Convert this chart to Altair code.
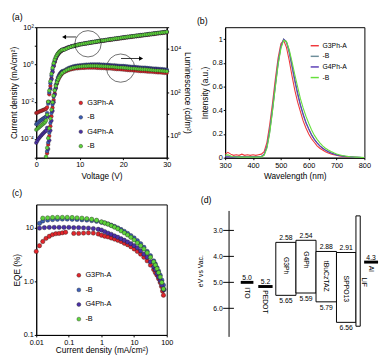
import altair as alt
import pandas as pd

FONT = "Liberation Sans"
NB = "\u00a0"

series = ["G3Ph-A", "G3Ph-B", "G4Ph-A", "G4Ph-B"]
colors_pts = ["#e2252b", "#3d5fb8", "#4b30a8", "#5ed43b"]
colors_lin = ["#f0383c", "#6e8e9a", "#5a3db5", "#66e03c"]

# ---------------- (a) J-V-L ----------------
voltage = [0, 0.25, 0.5, 0.75, 1, 1.25, 1.5, 1.75, 2, 2.25, 2.5, 2.75, 3, 3.25, 3.5, 3.75,
           4, 4.25, 4.5, 4.75, 5, 5.25, 5.5, 5.75, 6,
           6.5, 7, 7.5, 8, 8.5, 9, 9.5, 10, 10.5, 11, 11.5, 12, 12.5, 13, 13.5, 14, 14.5,
           15, 15.5, 16, 16.5, 17, 17.5, 18, 18.5, 19, 19.5, 20, 20.5, 21, 21.5, 22, 22.5,
           23, 23.5, 24, 24.5, 25, 25.5, 26, 26.5, 27, 27.5, 28, 28.5, 29, 29.5, 30]

# log10 of current density (mA/cm2)
logJ = {
    "G3Ph-A": [-2.6, -2.58, -2.55, -2.52, -2.5, -2.48, -2.45, -2.43, -2.4, -2.38, -2.3, -2.0, -1.6,
               -1.15, -0.75, -0.4, -0.1, 0.12, 0.3, 0.44, 0.54, 0.62, 0.68, 0.73, 0.77,
               0.84, 0.89, 0.93, 0.96, 0.99, 1.02, 1.04, 1.07, 1.09, 1.11, 1.13, 1.15, 1.17, 1.19, 1.20,
               1.22, 1.24, 1.26, 1.27, 1.29, 1.31, 1.32, 1.34, 1.36, 1.37, 1.39, 1.40, 1.42, 1.44, 1.45,
               1.47, 1.48, 1.50, 1.51, 1.53, 1.54, 1.56, 1.57, 1.59, 1.60, 1.62, 1.63, 1.65, 1.66, 1.68,
               1.69, 1.71, 1.72],
    "G3Ph-B": [-3.2, -3.15, -3.1, -3.05, -3.0, -2.96, -2.92, -2.88, -2.84, -2.8, -2.6, -2.1, -1.5,
               -1.0, -0.6, -0.27, 0.0, 0.2, 0.36, 0.48, 0.57, 0.64, 0.7, 0.74, 0.78,
               0.81, 0.86, 0.91, 0.95, 0.98, 1.01, 1.04, 1.07, 1.09, 1.11, 1.13, 1.15, 1.17, 1.19, 1.21,
               1.23, 1.25, 1.27, 1.28, 1.30, 1.32, 1.34, 1.35, 1.37, 1.39, 1.40, 1.42, 1.44, 1.45, 1.47,
               1.48, 1.50, 1.51, 1.53, 1.54, 1.56, 1.57, 1.59, 1.60, 1.62, 1.63, 1.65, 1.66, 1.68, 1.69,
               1.71, 1.72, 1.74],
    "G4Ph-A": [-4.2, -4.1, -4.0, -3.92, -3.85, -3.78, -3.72, -3.66, -3.6, -3.55, -3.4, -2.8, -2.0,
               -1.3, -0.8, -0.4, -0.08, 0.16, 0.34, 0.47, 0.57, 0.65, 0.71, 0.76, 0.8,
               0.83, 0.88, 0.93, 0.97, 1.00, 1.03, 1.06, 1.09, 1.11, 1.13, 1.15, 1.17, 1.19, 1.21, 1.23,
               1.25, 1.27, 1.29, 1.30, 1.32, 1.34, 1.36, 1.37, 1.39, 1.41, 1.42, 1.44, 1.46, 1.47, 1.49,
               1.50, 1.52, 1.53, 1.55, 1.56, 1.58, 1.59, 1.61, 1.62, 1.64, 1.65, 1.67, 1.68, 1.70, 1.71,
               1.73, 1.74, 1.76],
    "G4Ph-B": [-3.5, -3.45, -3.4, -3.35, -3.3, -3.25, -3.2, -3.15, -3.1, -3.0, -2.7, -2.0, -1.4,
               -0.9, -0.5, -0.18, 0.07, 0.26, 0.4, 0.51, 0.6, 0.67, 0.72, 0.76, 0.79,
               0.80, 0.86, 0.91, 0.95, 0.99, 1.02, 1.05, 1.08, 1.10, 1.12, 1.14, 1.16, 1.18, 1.20, 1.22,
               1.24, 1.26, 1.28, 1.29, 1.31, 1.33, 1.35, 1.36, 1.38, 1.40, 1.41, 1.43, 1.45, 1.46, 1.48,
               1.49, 1.51, 1.52, 1.54, 1.55, 1.57, 1.58, 1.60, 1.61, 1.63, 1.64, 1.66, 1.67, 1.69, 1.70,
               1.72, 1.73, 1.75],
}

# log10 of luminance (cd/m2); None = below detection
logL = {
    "G3Ph-A": [None] * 10 + [-0.8, -0.4, 0.0, 0.45, 0.9, 1.3, 1.65, 1.95, 2.2, 2.4, 2.55, 2.66, 2.75, 2.82, 2.88,
               2.94, 2.99, 3.03, 3.06, 3.08, 3.10, 3.11, 3.12, 3.13, 3.13, 3.14, 3.14, 3.14, 3.14, 3.14,
               3.13, 3.13, 3.12, 3.12, 3.11, 3.10, 3.10, 3.09, 3.08, 3.07, 3.07, 3.06, 3.05, 3.04, 3.03,
               3.02, 3.02, 3.01, 3.00, 2.99, 2.98, 2.98, 2.97, 2.96, 2.95, 2.95, 2.94, 2.93, 2.92, 2.92,
               2.91, 2.90, 2.90],
    "G3Ph-B": [None] * 10 + [-0.7, -0.3, 0.15, 0.6, 1.05, 1.45, 1.8, 2.1, 2.35, 2.55, 2.7, 2.8, 2.88, 2.94, 2.98,
               3.02, 3.08, 3.13, 3.17, 3.20, 3.22, 3.24, 3.25, 3.26, 3.27, 3.28, 3.28, 3.29, 3.29, 3.29,
               3.29, 3.29, 3.28, 3.28, 3.27, 3.27, 3.26, 3.25, 3.25, 3.24, 3.23, 3.22, 3.22, 3.21, 3.20,
               3.19, 3.18, 3.18, 3.17, 3.16, 3.15, 3.14, 3.14, 3.13, 3.12, 3.11, 3.10, 3.10, 3.09, 3.08,
               3.07, 3.06, 3.05],
    "G4Ph-A": [None] * 11 + [-0.6, -0.2, 0.25, 0.7, 1.15, 1.55, 1.9, 2.2, 2.45, 2.62, 2.75, 2.84, 2.9, 2.94,
               2.98, 3.04, 3.09, 3.13, 3.16, 3.18, 3.20, 3.21, 3.22, 3.23, 3.24, 3.24, 3.25, 3.25, 3.25,
               3.25, 3.25, 3.24, 3.24, 3.23, 3.23, 3.22, 3.21, 3.21, 3.20, 3.19, 3.18, 3.18, 3.17, 3.16,
               3.15, 3.14, 3.14, 3.13, 3.12, 3.11, 3.10, 3.10, 3.09, 3.08, 3.07, 3.06, 3.06, 3.05, 3.04,
               3.03, 3.02, 3.01],
    "G4Ph-B": [None] * 9 + [-0.95, -0.55, -0.1, 0.35, 0.8, 1.2, 1.55, 1.85, 2.1, 2.3, 2.47, 2.6, 2.7, 2.78, 2.85, 2.9,
               2.97, 3.03, 3.07, 3.11, 3.14, 3.16, 3.18, 3.19, 3.20, 3.21, 3.21, 3.22, 3.22, 3.22, 3.22,
               3.22, 3.21, 3.21, 3.20, 3.20, 3.19, 3.18, 3.18, 3.17, 3.16, 3.15, 3.15, 3.14, 3.13, 3.12,
               3.11, 3.10, 3.10, 3.09, 3.08, 3.07, 3.06, 3.06, 3.05, 3.04, 3.03, 3.02, 3.01, 3.01, 3.00,
               2.99, 2.98, 2.97],
}

# circles / arrows annotation (data coordinates: V, J)
circle_V = [11.9, 19.4]
circle_J = [12.9, 0.64]
arrow_V1 = [9.2, 19.5]
arrow_V2 = [6.4, 24.1]
arrow_J = [30.0, 2.1]

# ---------------- (b) EL spectra ----------------
wavelength = [300, 310, 320, 330, 340, 350, 360, 370, 380, 390, 400, 410, 420, 430, 440, 450, 460, 470,
              480, 490, 500, 510, 520, 530, 540, 550, 560, 570, 580, 590, 600, 610, 620, 630, 640, 650,
              660, 670, 680, 690, 700, 710, 720, 730, 740, 750, 760, 770, 780, 790, 800]
intensity = {
    "G3Ph-A": [0.03, 0.045, 0.03, 0.02, 0.025, 0.02, 0.03, 0.02, 0.025, 0.02, 0.025, 0.02, 0.025, 0.03,
               0.05, 0.13, 0.28, 0.46, 0.66, 0.84, 0.96, 0.99, 0.93, 0.82, 0.69, 0.57, 0.47, 0.39, 0.31,
               0.25, 0.20, 0.16, 0.13, 0.10, 0.08, 0.065, 0.05, 0.04, 0.032, 0.025, 0.02, 0.015, 0.012,
               0.009, 0.007, 0.005, 0.004, 0.003, 0.002, 0.002, 0.001],
    "G3Ph-B": [0.012, 0.015, 0.012, 0.01, 0.01, 0.01, 0.01, 0.01, 0.01, 0.01, 0.01, 0.01, 0.01, 0.012,
               0.03, 0.10, 0.24, 0.42, 0.62, 0.81, 0.94, 1.0, 0.97, 0.88, 0.76, 0.64, 0.53, 0.44, 0.36,
               0.29, 0.24, 0.19, 0.155, 0.125, 0.10, 0.08, 0.065, 0.052, 0.042, 0.033, 0.026, 0.02,
               0.016, 0.012, 0.009, 0.007, 0.005, 0.004, 0.003, 0.002, 0.002],
    "G4Ph-A": [0.006, 0.008, 0.006, 0.005, 0.005, 0.005, 0.005, 0.005, 0.005, 0.005, 0.005, 0.005, 0.006,
               0.008, 0.025, 0.09, 0.22, 0.40, 0.60, 0.79, 0.93, 1.0, 0.98, 0.90, 0.78, 0.66, 0.55, 0.45,
               0.37, 0.30, 0.245, 0.195, 0.155, 0.125, 0.10, 0.08, 0.064, 0.05, 0.04, 0.031, 0.024,
               0.018, 0.014, 0.011, 0.008, 0.006, 0.005, 0.004, 0.003, 0.002, 0.002],
    "G4Ph-B": [0.02, 0.025, 0.015, 0.008, 0.006, 0.005, 0.005, 0.005, 0.005, 0.005, 0.005, 0.005, 0.005,
               0.006, 0.02, 0.08, 0.21, 0.39, 0.59, 0.78, 0.92, 0.99, 0.98, 0.91, 0.81, 0.70, 0.60, 0.50,
               0.42, 0.35, 0.29, 0.235, 0.19, 0.155, 0.125, 0.10, 0.08, 0.065, 0.052, 0.041, 0.032,
               0.025, 0.019, 0.015, 0.011, 0.008, 0.006, 0.005, 0.004, 0.003, 0.002],
}

# ---------------- (c) EQE vs J ----------------
eqe_logJ = {
    "G3Ph-A": [-2.0, -1.9, -1.8, -1.7, -1.6, -1.5, -1.4, -1.3, -1.2, -1.1, -0.85, -0.7, -0.55, -0.4, -0.25,
               -0.1, 0.0, 0.1, 0.2, 0.3, 0.4, 0.5, 0.6, 0.7, 0.8, 0.9, 1.0, 1.1, 1.2, 1.3, 1.4, 1.5, 1.6,
               1.65, 1.7, 1.75, 1.8, 1.84, 1.87, 1.9],
    "G3Ph-B": [-1.9, -1.8, -1.65, -1.5, -1.35, -1.2, -1.05, -0.9, -0.75, -0.6, -0.45, -0.3, -0.15,
               0.0, 0.1, 0.2, 0.3, 0.4, 0.5, 0.6, 0.7, 0.8, 0.9, 1.0, 1.1, 1.2, 1.3, 1.4, 1.5, 1.6,
               1.65, 1.7, 1.75, 1.8, 1.85, 1.9, 1.92],
    "G4Ph-A": [-1.9, -1.75, -1.6, -1.45, -1.3, -1.15, -1.0, -0.85, -0.7, -0.55, -0.4, -0.25, -0.1,
               0.0, 0.1, 0.2, 0.3, 0.4, 0.5, 0.6, 0.7, 0.8, 0.9, 1.0, 1.1, 1.2, 1.3, 1.4, 1.5, 1.6,
               1.65, 1.7, 1.75, 1.8, 1.85, 1.9],
    "G4Ph-B": [-1.8, -1.65, -1.5, -1.35, -1.2, -1.05, -0.9, -0.75, -0.6, -0.45, -0.3, -0.15,
               0.0, 0.1, 0.2, 0.3, 0.4, 0.5, 0.6, 0.7, 0.8, 0.9, 1.0, 1.1, 1.2, 1.3, 1.4, 1.5, 1.6,
               1.65, 1.7, 1.75, 1.8, 1.85, 1.9],
}
eqe_val = {
    "G3Ph-A": [3.6, 4.6, 5.5, 6.3, 6.9, 7.4, 7.7, 7.8, 8.0, 8.2, 7.8, 7.8, 7.9, 8.0, 7.9,
               7.6, 7.2, 6.9, 6.7, 6.4, 6.1, 5.8, 5.5, 5.1, 4.8, 4.4, 4.0, 3.6, 3.2, 2.8, 2.4, 2.0, 1.65,
               1.45, 1.3, 1.12, 0.95, 0.8, 0.66, 0.55],
    "G3Ph-B": [12.0, 13.3, 13.8, 14.1, 14.3, 14.4, 14.4, 14.3, 14.2, 14.0, 13.8, 13.5, 13.1,
               12.6, 12.2, 11.7, 11.1, 10.5, 9.9, 9.2, 8.5, 7.8, 7.1, 6.4, 5.7, 5.0, 4.3, 3.6, 3.0, 2.4,
               2.1, 1.8, 1.55, 1.3, 1.05, 0.85, 0.7],
    "G4Ph-A": [9.8, 10.0, 10.1, 10.1, 10.1, 10.1, 10.1, 10.0, 10.0, 9.9, 9.8, 9.6, 9.3,
               9.0, 8.4, 7.9, 7.5, 7.0, 6.6, 6.2, 5.8, 5.4, 5.0, 4.6, 4.2, 3.7, 3.2, 2.8, 2.3, 1.85,
               1.65, 1.4, 1.2, 1.02, 0.85, 0.7],
    "G4Ph-B": [15.0, 15.2, 15.4, 15.5, 15.5, 15.5, 15.4, 15.2, 15.0, 14.7, 14.3, 13.7,
               12.8, 12.2, 11.6, 10.9, 10.2, 9.5, 8.7, 8.0, 7.3, 6.6, 5.9, 5.2, 4.6, 4.0, 3.4, 2.8, 2.3,
               2.0, 1.72, 1.45, 1.2, 0.95, 0.72],
}

# ---------------- (d) energy diagram ----------------
d_names = ["ITO", "PEDOT", "G3Ph", "G4Ph", "tBuCzTAZ", "SPPO13", "LiF", "Al"]
d_kind = ["bar", "bar", "box", "box", "box", "box", "box", "bar"]
d_top_label = ["5.0", "5.2", "2.58", "2.54", "2.88", "2.91", "", "4.3"]
d_bottom_label = ["", "", "5.65", "5.59", "5.79", "6.56", "", ""]
d_top = [5.0, 5.16, 3.46, 3.38, 3.81, 3.85, 2.44, 4.22]        # as drawn (eV)
d_bottom = [5.0, 5.16, 5.5, 5.41, 5.75, 6.54, 6.69, 4.22]      # as drawn (eV)
d_x0 = [12, 30, 48, 68.7, 89.3, 110.3, 130.3, 138.7]
d_x1 = [25, 44.7, 68.7, 89.3, 110.3, 130.3, 134.7, 153]
d_name_x = [18.5, 37.3, 58.3, 79, 99.8, 120.3, 138.7, 145.8]
d_name_y = [5.19, 5.3, 4.02, 3.8, 4.17, 4.74, 4.81, 4.36]
d_ticks = [3.0, 4.0, 5.0, 6.0]
d_axis_span = [2.25, 7.1]

# ================= build frames =================
rows_j, rows_l = [], []
for k, s in enumerate(series):
    for i, v in enumerate(voltage):
        rows_j.append({"series": s, "k": k, "V": v, "J": 10 ** logJ[s][i]})
        if logL[s][i] is not None:
            rows_l.append({"series": s, "k": k, "V": v, "L": 10 ** logL[s][i]})
df_j = pd.DataFrame(rows_j)
df_l = pd.DataFrame(rows_l)

rows_b = []
for s in series:
    for w, it in zip(wavelength, intensity[s]):
        rows_b.append({"series": s, "wl": w, "I": it})
df_b = pd.DataFrame(rows_b)

rows_c = []
for s in series:
    for lj, e in zip(eqe_logJ[s], eqe_val[s]):
        rows_c.append({"series": s, "J": 10 ** lj, "EQE": e})
df_c = pd.DataFrame(rows_c)

label_b = f"indexof(datum.label, '-B') > 0 ? '{NB * 9}-B' : datum.label"


def lexp(mapping):
    e = "round(log(datum.value)/LN10)"
    expr = "''"
    for p, t in mapping.items():
        expr = f"{e} == {p} ? '{t}' : ({expr})"
    return expr


# ---- (a)
W_A, H_A = 134, 134
x_a = alt.X("V:Q", scale=alt.Scale(domain=[0, 30], nice=False),
            axis=alt.Axis(values=[0, 5, 10, 15, 20, 25, 30], title="Voltage (V)", titlePadding=4))
ax_j = alt.Axis(values=[1e-5, 1e-4, 1e-3, 1e-2, 1e-1, 1, 10, 100],
                labelExpr=lexp({2: "10²", 0: "10⁰", -2: "10⁻²", -4: "10⁻⁴"}),
                title="Current density (mA/cm²)", labelOverlap=False, titlePadding=1)
y_j = alt.Y("J:Q", scale=alt.Scale(type="log", domain=[1e-5, 1e2], nice=False), axis=ax_j)
leg_a = alt.Legend(orient="none", legendX=42, legendY=74, title=None, symbolType="circle",
                   symbolSize=14, symbolStrokeColor="#222", symbolStrokeWidth=0.4, labelFontSize=7.5,
                   rowPadding=5.8, padding=0, labelOffset=3, labelExpr=label_b)
col_a = alt.Color("series:N", scale=alt.Scale(domain=series, range=colors_pts), legend=leg_a)

j_pts = alt.Chart(df_j).mark_circle(size=14, opacity=1, stroke="#1c1c1c", strokeWidth=0.35).encode(
    x=x_a, y=y_j, color=col_a)
ann_c = pd.DataFrame({"V": circle_V, "J": circle_J})
circ1 = alt.Chart(ann_c.iloc[[0]]).mark_point(shape="circle", filled=False, size=730, color="black",
                                                strokeWidth=0.8).encode(x=x_a, y=y_j)
circ2 = alt.Chart(ann_c.iloc[[1]]).mark_point(shape="circle", filled=False, size=840, color="black",
                                                strokeWidth=0.8).encode(x=x_a, y=y_j)
ann_a = pd.DataFrame({"V": arrow_V1, "V2": arrow_V2, "J": arrow_J})
arrows = alt.Chart(ann_a).mark_rule(color="black", strokeWidth=0.8).encode(x=x_a, x2="V2:Q", y=y_j)
head_l = alt.Chart(ann_a.iloc[[0]]).mark_point(shape="triangle-left", filled=True, size=22,
                                               color="black", opacity=1).encode(
    x=alt.X("V2:Q", scale=alt.Scale(domain=[0, 30], nice=False)), y=y_j)
head_r = alt.Chart(ann_a.iloc[[1]]).mark_point(shape="triangle-right", filled=True, size=22,
                                               color="black", opacity=1).encode(
    x=alt.X("V2:Q", scale=alt.Scale(domain=[0, 30], nice=False)), y=y_j)
a_left = alt.layer(j_pts, circ1, circ2, arrows, head_l, head_r)

ax_l = alt.Axis(orient="right", values=[0.1, 1, 10, 100, 1e3, 1e4, 1e5],
                labelExpr=lexp({4: "10⁴", 2: "10²", 0: "10⁰"}),
                title="Luminescence (cd/m²)", labelOverlap=False)
l_pts = alt.Chart(df_l).mark_circle(size=14, opacity=1, stroke="#1c1c1c", strokeWidth=0.35).encode(
    x=x_a,
    y=alt.Y("L:Q", scale=alt.Scale(type="log", domain=[0.1, 1e5], nice=False), axis=ax_l),
    color=col_a)
panel_a = alt.layer(a_left, l_pts).resolve_scale(y="independent").properties(
    width=W_A, height=H_A,
    title=alt.TitleParams("(a)", anchor="start", frame="group", dx=-25, offset=1))

# ---- (b)
leg_b = alt.Legend(orient="none", legendX=87, legendY=14, title=None, symbolType="stroke",
                   symbolSize=70, symbolStrokeWidth=1.5, labelFontSize=7, rowPadding=2.9,
                   padding=0, labelOffset=3, labelExpr=label_b)
panel_b = alt.Chart(df_b).mark_line(strokeWidth=1.1).encode(
    x=alt.X("wl:Q", scale=alt.Scale(domain=[300, 800], nice=False),
            axis=alt.Axis(values=[300, 400, 500, 600, 700, 800], title="Wavelength (nm)",
                          labelPadding=2, titlePadding=3)),
    y=alt.Y("I:Q", scale=alt.Scale(domain=[0, 1.1], nice=False),
            axis=alt.Axis(values=[0, 0.2, 0.4, 0.6, 0.8, 1.0], format=".1~f", title="Intensity (a.u.)",
                          titlePadding=3)),
    color=alt.Color("series:N", scale=alt.Scale(domain=series, range=colors_lin), legend=leg_b),
).properties(width=143, height=134,
             title=alt.TitleParams("(b)", anchor="start", frame="group", dx=-29, offset=1))

# ---- (c)
leg_c = alt.Legend(orient="none", legendX=40, legendY=69, title=None, symbolType="circle",
                   symbolSize=16, symbolStrokeColor="#222", symbolStrokeWidth=0.4, labelFontSize=7.5,
                   rowPadding=6, padding=0, labelOffset=3, labelExpr=label_b)
panel_c = alt.Chart(df_c).mark_circle(size=20, opacity=1, stroke="#1c1c1c", strokeWidth=0.4).encode(
    x=alt.X("J:Q", scale=alt.Scale(type="log", domain=[0.01, 100], nice=False),
            axis=alt.Axis(values=[0.01, 0.1, 1, 10, 100], format="~g", title="Current density (mA/cm²)",
                          labelPadding=2, titlePadding=0)),
    y=alt.Y("EQE:Q", scale=alt.Scale(type="log", domain=[0.1, 27], nice=False),
            axis=alt.Axis(values=[0.1, 1, 10], labelExpr="datum.value == 1 ? '1.0' : format(datum.value, '~g')",
                          title="EQE (%)")),
    color=alt.Color("series:N", scale=alt.Scale(domain=series, range=colors_pts), legend=leg_c),
).properties(width=W_A, height=134,
             title=alt.TitleParams("(c)", anchor="start", frame="group", dx=-25, offset=7))

# ---- (d)
df_d = pd.DataFrame({"name": d_names, "kind": d_kind, "top_lab": d_top_label, "bot_lab": d_bottom_label,
                     "e": d_top, "e2": d_bottom, "x": d_x0, "x2": d_x1,
                     "nx": d_name_x, "ny": d_name_y})
df_d["xc"] = (df_d["x"] + df_d["x2"]) / 2
sc_xd = alt.Scale(domain=[-4, 153], nice=False)
x_d = alt.X("x:Q", scale=sc_xd, axis=None)
sc_e = alt.Scale(domain=[2.0, 7.1], reverse=True, nice=False, zero=False)
ax_e = alt.Axis(values=d_ticks, format=".1f", domain=False, ticks=False, labelPadding=3,
                title="eV vs Vac.", titleFontSize=7, labelFontSize=7, titlePadding=10)
y_d = alt.Y("e:Q", scale=sc_e, axis=ax_e)

axis_line = alt.Chart(pd.DataFrame({"x": [0], "e": [d_axis_span[0]], "e2": [d_axis_span[1]]})).mark_rule(
    color="black", strokeWidth=1).encode(x=x_d, y=y_d, y2="e2:Q")
tick_df = pd.DataFrame({"e": d_ticks, "x": [-6] * 4, "x2": [5] * 4})
tick_rules = alt.Chart(tick_df).mark_rule(color="black", strokeWidth=1).encode(x=x_d, x2="x2:Q", y=y_d)
bars = alt.Chart(df_d[df_d["kind"] == "bar"]).mark_rule(color="black", strokeWidth=3).encode(
    x=x_d, x2="x2:Q", y=y_d)
boxes = alt.Chart(df_d[df_d["kind"] == "box"]).mark_rect(fill="white", stroke="black", strokeWidth=1).encode(
    x=x_d, x2="x2:Q", y=y_d, y2="e2:Q")
top_txt = alt.Chart(df_d[df_d["top_lab"] != ""]).mark_text(baseline="bottom", dy=-1.5, fontSize=7,
                                                           font=FONT, color="black").encode(
    x=alt.X("xc:Q", scale=sc_xd, axis=None), y=y_d, text="top_lab:N")
bot_txt = alt.Chart(df_d[df_d["bot_lab"] != ""]).mark_text(baseline="top", dy=2, fontSize=7,
                                                           font=FONT, color="black").encode(
    x=alt.X("xc:Q", scale=sc_xd, axis=None),
    y=alt.Y("e2:Q", scale=sc_e, axis=ax_e), text="bot_lab:N")
name_txt = alt.Chart(df_d).mark_text(angle=90, align="left", baseline="middle", fontSize=7,
                                     font=FONT, color="black").encode(
    x=alt.X("nx:Q", scale=sc_xd, axis=None),
    y=alt.Y("ny:Q", scale=sc_e, axis=ax_e), text="name:N")
panel_d = alt.layer(axis_line, tick_rules, bars, boxes, top_txt, bot_txt, name_txt).properties(
    width=157, height=136, view=alt.ViewBackground(stroke="transparent"),
    title=alt.TitleParams("(d)", anchor="start", frame="group", dx=-25, offset=0))

chart = alt.concat(panel_a, panel_b, panel_c, panel_d, columns=2,
                   spacing={"row": 48, "column": 60}, bounds="flush", align="each").resolve_scale(
    color="independent").resolve_legend(color="independent").properties(
    padding=0).configure_axis(
    labelFont=FONT, labelFontSize=7.5, titleFont=FONT, titleFontSize=8.5, titleFontWeight="normal",
    labelColor="black", titleColor="black", domainColor="black", tickColor="black", tickSize=2,
    labelPadding=1, titlePadding=2, grid=False, labelFlush=False
).configure_view(stroke="black", strokeWidth=1).configure_legend(
    labelFont=FONT, labelColor="black"
).configure_title(font=FONT, fontSize=9, fontWeight="normal", color="black")

chart.save("out.html", embed_options={"renderer": "svg", "actions": False})
